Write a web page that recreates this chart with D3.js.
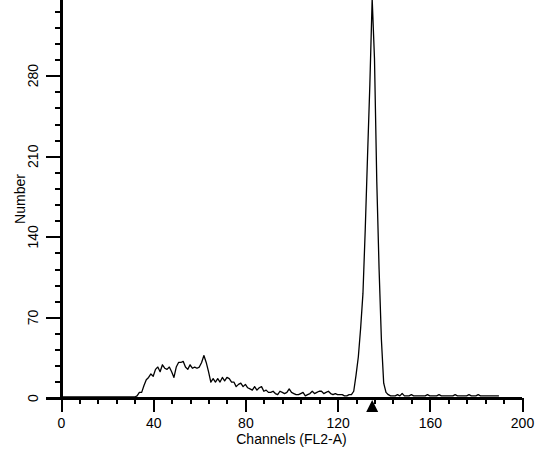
<!DOCTYPE html>
<html lang="en">
<head>
  <meta charset="UTF-8">
  <title>Channels (FL2-A) histogram</title>
  <script src="https://d3js.org/d3.v7.min.js"></script>
  <style>
    body, html {
      margin: 0;
      padding: 0;
      background-color: #fff;
      overflow: hidden;
    }
    svg text {
      font-family: 'Liberation Sans', Arial, sans-serif;
      font-size: 14px;
      fill: #000;
    }
    .axis path, .axis line {
      stroke: #000;
      stroke-width: 2;
      shape-rendering: crispEdges;
    }
  </style>
</head>
<body>
  <svg class="chart"></svg>
  <script>
    // Counts per channel, starting at channel 0
    const counts = [
      0, 0, 0, 0, 0, 0, 0, 0, 0, 0, 0, 0, 0, 0, 0, 0,
      0, 0, 0, 0, 0, 0, 0, 0, 0, 0, 0, 0, 0, 0, 0, 0,
      0, 1, 4, 4, 10, 15, 17, 20, 18, 24, 26, 22, 28, 25, 24, 26,
      22, 17, 26, 30, 30, 31, 26, 24, 28, 25, 26, 25, 26, 30, 36, 30,
      22, 13, 16, 13, 16, 13, 17, 14, 17, 16, 13, 13, 9, 11, 12, 9,
      11, 8, 7, 6, 9, 6, 8, 9, 5, 6, 4, 4, 5, 3, 2, 5,
      4, 3, 4, 7, 4, 3, 2, 2, 3, 4, 1, 2, 3, 5, 3, 4,
      5, 5, 3, 4, 5, 3, 2, 3, 2, 2, 2, 1, 1, 2, 2, 5,
      19, 35, 60, 90, 146, 210, 272, 346, 294, 187, 111, 50, 12, 4, 2, 1,
      1, 1, 2, 1, 3, 1, 1, 1, 2, 1, 1, 1, 1, 1, 1, 2,
      1, 1, 1, 1, 2, 1, 1, 1, 1, 1, 1, 2, 1, 1, 1, 1,
      1, 2, 1, 1, 1, 2, 1, 1, 1, 1, 1, 1, 1, 1, 1
    ];
    const xMajorTicks = [0, 40, 80, 120, 160, 200];
    const xMinorTicks = [8, 16, 24, 32, 48, 56, 64, 72, 88, 96, 104, 112, 128, 136, 144, 152, 168, 176, 184, 192];
    const yMajorTicks = [0, 70, 140, 210, 280];
    const yMinorTicks = [14, 28, 42, 56, 84, 98, 112, 126, 154, 168, 182, 196, 224, 238, 252, 266, 294, 308, 322, 336];
    const markerChannel = 135;

    const width = 548, height = 451;
    const svg = d3.select("svg").attr("width", width).attr("height", height);

    const x = d3.scaleLinear().domain([0, 200]).range([61, 522]);
    const y = d3.scaleLinear().domain([0, 350]).range([398, 398 - 350 * 1.1511]);

    // x axis
    svg.append("g")
      .attr("class", "axis")
      .attr("transform", "translate(0,398)")
      .call(d3.axisBottom(x).tickValues(xMinorTicks).tickSize(6).tickSizeOuter(0).tickFormat(""));
    const xa = svg.append("g")
      .attr("class", "axis")
      .attr("transform", "translate(0,398)")
      .call(d3.axisBottom(x).tickValues(xMajorTicks).tickSize(14).tickSizeOuter(0).tickPadding(6));
    xa.selectAll("text").style("font-size", "14px").attr("font-family", null);

    // y axis
    svg.append("g")
      .attr("class", "axis")
      .attr("transform", "translate(61,0)")
      .call(d3.axisLeft(y).tickValues(yMinorTicks).tickSize(6).tickSizeOuter(0).tickFormat(""));
    const ya = svg.append("g")
      .attr("class", "axis")
      .attr("transform", "translate(61,0)")
      .call(d3.axisLeft(y).tickValues(yMajorTicks).tickSize(15).tickSizeOuter(0).tickFormat(""));
    ya.select(".domain").attr("d", "M0," + y(0) + "V-10");

    svg.append("line")
      .attr("x1", 46).attr("x2", 522)
      .attr("y1", 398).attr("y2", 398)
      .attr("stroke", "#000").attr("stroke-width", 2)
      .attr("shape-rendering", "crispEdges");

    svg.append("g").selectAll("text")
      .data(yMajorTicks)
      .join("text")
      .attr("transform", d => `translate(33,${y(d)}) rotate(-90)`)
      .attr("text-anchor", "middle")
      .attr("dy", "0.35em")
      .text(d => d);

    // histogram trace
    const line = d3.line()
      .x((d, i) => x(i))
      .y(d => y(d) - 1);

    svg.append("path")
      .datum(counts)
      .attr("fill", "none")
      .attr("stroke", "#000")
      .attr("stroke-width", 1.3)
      .attr("stroke-linejoin", "round")
      .attr("d", line);

    // peak marker
    const mx = x(markerChannel);
    svg.append("path")
      .attr("d", `M${mx},400L${mx - 6},412L${mx + 6},412Z`)
      .attr("fill", "#000");

    // titles
    svg.append("text")
      .attr("x", (x(0) + x(200)) / 2)
      .attr("y", 444)
      .attr("text-anchor", "middle")
      .text("Channels (FL2-A)");

    svg.append("text")
      .attr("transform", "translate(20,199) rotate(-90)")
      .attr("text-anchor", "middle")
      .attr("dy", "0.35em")
      .text("Number");
  </script>
</body>
</html>
